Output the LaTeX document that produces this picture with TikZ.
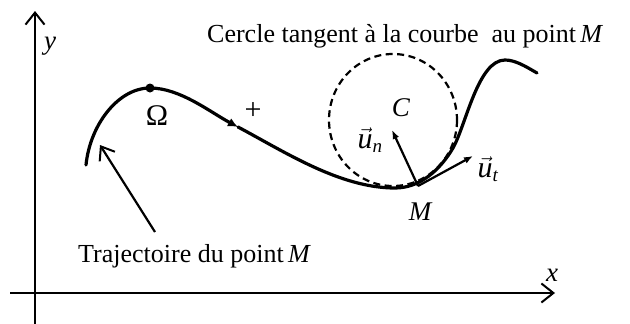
\documentclass[tikz,border=0pt]{standalone}
\usepackage{fontspec}
\setmainfont{Liberation Serif}
\usetikzlibrary{arrows.meta}
\tikzset{
  axis/.style={line width=2.2pt,-{Straight Barb[length=12pt,width=19pt,line width=2pt]}},
  curve/.style={line width=3.2pt,line cap=round},
  vecarrow/.style={line width=2.2pt,-{Latex[length=9pt,width=7pt]}},
  pointer/.style={line width=2.2pt,-{Straight Barb[length=12pt,width=18pt,line width=2pt]}},
  lbl/.style={inner sep=0pt,font=\fontsize{26}{30}\selectfont},
  ilbl/.style={inner sep=0pt,font=\fontsize{27}{30}\selectfont\itshape},
  vlbl/.style={inner sep=0pt,font=\fontsize{30}{32}\selectfont},
}
\newcommand{\vu}[1]{$\vec{\mbox{\itshape u}}_{\mbox{\fontsize{19}{20}\selectfont\itshape #1}}$}
\begin{document}
\begin{tikzpicture}[x=1pt,y=-1pt]
\useasboundingbox (0,0) rectangle (630,324);
% axes
\coordinate (Ybot) at (35,324);
\coordinate (Ytop) at (35,11);
\coordinate (Xl) at (10,293);
\coordinate (Xr) at (555,293);
\draw[axis] (Ybot) -- (Ytop);
\draw[axis] (Xl) -- (Xr);
\node[ilbl] (ylab) at (50,46) {y};
\node[ilbl] (xlab) at (552,275) {x};
% key points
\coordinate (S) at (86,165);
\coordinate (Om) at (150,88);
\coordinate (T) at (238,127);
\coordinate (B) at (395,188);
\coordinate (Q) at (453,148);
\coordinate (P) at (505,60);
\coordinate (E) at (537,73);
\coordinate (M) at (418,186);
\coordinate (Cc) at (393,120);
% trajectory
\draw[curve] (S) .. controls (90,125) and (118,88) .. (Om);
\draw[curve,-{Latex[length=10pt,width=9pt]}] (Om) .. controls (180,88) and (210,112) .. (T);
\draw[curve] (T) .. controls (285,152) and (340,188) .. (B)
  .. controls (420,188) and (440,170) .. (Q)
  .. controls (466,125) and (478,60) .. (P)
  .. controls (515,60) and (525,66) .. (E);
\fill (Om) circle (4.5pt);
\node[vlbl] (omlab) at (157,116) {Ω};
\node[vlbl] (plus) at (253,111) {+};
% osculating circle
\draw[line width=2.2pt,dash pattern=on 7pt off 4.5pt] (Cc) ellipse [x radius=64, y radius=66];
\node[ilbl] (clab) at (401,108) {C};
% vectors
\coordinate (Un) at (392,130);
\coordinate (Ut) at (473,156);
\draw[vecarrow] (M) -- (Un);
\draw[vecarrow] (M) -- (Ut);
\node[vlbl] (unlab) at (370,140) {\vu{n}};
\node[vlbl] (utlab) at (488,169) {\vu{t}};
\node[ilbl] (mlab) at (420,212) {M};
% texts
\node[lbl,anchor=base west] (title) at (207,42) {Cercle tangent à la courbe\ \ au point\,\textit{M}};
\node[lbl,anchor=base west] (traj) at (78,262) {Trajectoire du point\,\textit{M}};
\coordinate (Ptail) at (155,232);
\coordinate (Ptip) at (100,145);
\draw[pointer] (Ptail) -- (Ptip);
\end{tikzpicture}
\end{document}
